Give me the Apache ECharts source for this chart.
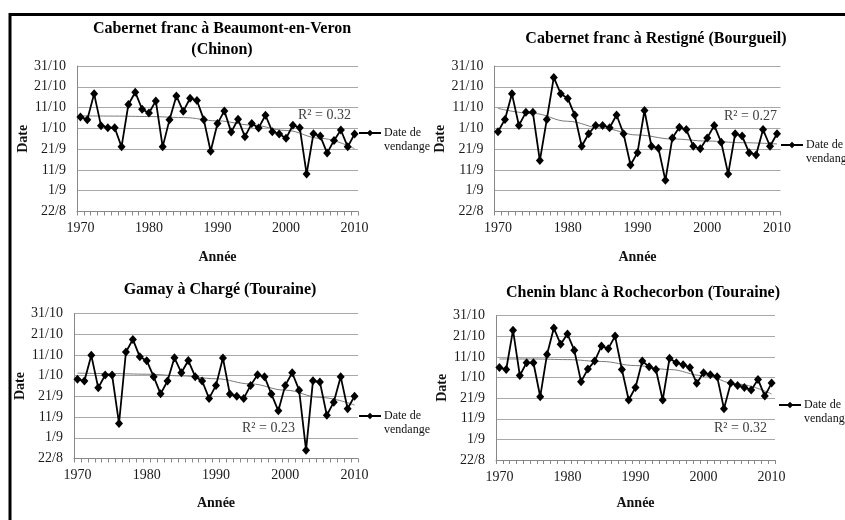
<!DOCTYPE html>
<html><head><meta charset="utf-8">
<script src="https://cdn.jsdelivr.net/npm/echarts@6/dist/echarts.min.js"></script>
<style>html,body{margin:0;padding:0;background:#fff}#c{width:845px;height:520px}</style>
</head><body><div id="c"></div>
<script>
// ---- data (days counted from 22/8) ----
const years = ['1970','1971','1972','1973','1974','1975','1976','1977','1978','1979',
  '1980','1981','1982','1983','1984','1985','1986','1987','1988','1989',
  '1990','1991','1992','1993','1994','1995','1996','1997','1998','1999',
  '2000','2001','2002','2003','2004','2005','2006','2007','2008','2009','2010'];
const dateTicks = ['22/8','1/9','11/9','21/9','1/10','11/10','21/10','31/10'];

const chinon = [45.5,44.2,56.6,41.3,40.3,40.3,31.1,51.5,57.4,49.2,
  47.4,53.2,31.1,44.2,55.6,48.2,54.5,53.4,44.2,29.0,
  42.3,48.4,38.2,44.4,36.0,42.3,40.2,46.3,38.4,37.3,
  35.2,41.5,40.3,18.1,37.4,36.3,28.1,34.2,39.2,31.1,37.3];
const bourgueil = [38.4,44.3,56.6,41.4,47.7,47.7,24.5,44.3,64.5,56.6,
  54.4,46.4,31.4,37.4,41.4,41.4,40.3,46.4,37.4,22.4,
  28.3,48.6,31.4,30.4,15.0,35.4,40.5,39.4,31.4,30.2,
  35.4,41.4,33.3,18.1,37.4,36.3,28.3,27.2,39.4,31.4,37.4];
const charge = [38.3,37.4,49.8,34.1,40.3,40.3,16.9,51.4,57.5,49.1,
  47.2,39.5,31.2,37.4,48.6,41.4,47.3,39.5,37.4,29.0,
  35.3,48.5,31.1,30.1,29.0,35.3,40.4,39.5,31.1,23.0,
  35.3,41.4,33.0,4.0,37.5,36.9,20.9,27.2,39.5,24.0,30.1];
const rochecorbon = [44.9,43.9,63.0,41.0,47.2,47.2,30.7,51.2,64.0,56.1,
  61.1,53.3,38.0,44.1,48.0,55.3,54.0,60.1,43.9,29.1,
  35.2,48.0,45.2,43.9,29.1,49.3,47.2,46.2,44.9,37.2,
  42.3,41.4,40.4,24.9,37.3,36.2,35.2,33.9,39.1,31.0,37.3];

// trend curves
const trendYears = ['1970','1975','1980','1985','1990','1995','2000','2005','2010'];
const chinonTrend = [46.0,45.9,45.7,45.2,43.6,41.6,39.0,35.2,30.2];
const bourgueilTrend = [49.6,47.2,43.4,40.0,36.8,34.9,33.9,33.1,32.5];
const chargeTrend = [41.2,41.0,40.7,39.9,38.5,36.0,33.0,29.5,25.8];
const rocheTrend = [49.0,49.0,48.7,47.8,45.8,43.9,40.9,36.8,32.0];

const titles = ['Cabernet franc à Beaumont-en-Veron\n(Chinon)',
  'Cabernet franc à Restigné (Bourgueil)',
  'Gamay à Chargé (Touraine)',
  'Chenin blanc à Rochecorbon (Touraine)'];
const r2Labels = ['R² = 0.32','R² = 0.27','R² = 0.23','R² = 0.32'];
const seriesName = 'Date de vendange';
const yName = 'Date';
const xName = 'Année';

// ---- layout ----
const FONT = "'Liberation Serif','Times New Roman',serif";
const panels = [
  {vals: chinon, trend: chinonTrend, grid:{left:77,top:66,width:281,height:145.5},
   title:{x:222,y:18.5}, r2:{x:326,y:116}, legend:{x:358,y:112}, yGap:47, xGap:38.5},
  {vals: bourgueil, trend: bourgueilTrend, grid:{left:494.5,top:66,width:286,height:145.5},
   title:{x:656,y:28.5}, r2:{x:752,y:117}, legend:{x:780,y:124}, yGap:43, xGap:38.5},
  {vals: charge, trend: chargeTrend, grid:{left:74,top:313.5,width:284,height:145},
   title:{x:220,y:279.5}, r2:{x:270,y:429}, legend:{x:358,y:395}, yGap:44, xGap:37.5},
  {vals: rochecorbon, trend: rocheTrend, grid:{left:496,top:315.7,width:279,height:144.3},
   title:{x:643,y:282.5}, r2:{x:742,y:429}, legend:{x:778,y:384}, yGap:44, xGap:36}
];

const option = {animation:false, backgroundColor:'#fff',
  grid:[], xAxis:[], yAxis:[], series:[], title:[], legend:[], graphic:[]};

panels.forEach((p,i)=>{
  option.grid.push(Object.assign({containLabel:false}, p.grid));
  option.xAxis.push({type:'category', gridIndex:i, data:years, boundaryGap:true,
    name:xName, nameLocation:'middle', nameGap:p.xGap,
    nameTextStyle:{fontFamily:FONT,fontSize:14,fontWeight:'bold',color:'#111'},
    axisLine:{lineStyle:{color:'#888',width:1}},
    axisTick:{show:true,interval:0,length:4,lineStyle:{color:'#888'}},
    axisLabel:{interval:9,margin:10,fontFamily:FONT,fontSize:14,color:'#1a1a1a'},
    splitLine:{show:false}});
  option.yAxis.push({type:'value', gridIndex:i, min:0, max:70, interval:10,
    name:yName, nameLocation:'middle', nameGap:p.yGap, nameRotate:90,
    nameTextStyle:{fontFamily:FONT,fontSize:14,fontWeight:'bold',color:'#111'},
    axisLine:{show:true,lineStyle:{color:'#888',width:1}},
    axisTick:{show:false},
    axisLabel:{margin:11,fontFamily:FONT,fontSize:14,color:'#1a1a1a',
      formatter:v=>dateTicks[Math.round(v/10)]},
    splitLine:{lineStyle:{color:'#a8a8a8',width:1}}});
  option.series.push({type:'line', name:seriesName, xAxisIndex:i, yAxisIndex:i,
    data:p.vals, symbol:'diamond', symbolSize:[8,9], showAllSymbol:true, z:3,
    lineStyle:{color:'#000',width:1.8}, itemStyle:{color:'#000'}});
  option.series.push({type:'line', name:'trend'+i, xAxisIndex:i, yAxisIndex:i,
    data:trendYears.map((y,k)=>[y,p.trend[k]]), symbol:'none', smooth:0.4,
    smoothMonotone:'x', lineStyle:{color:'#7a7a7a',width:1}, z:2, silent:true});
  option.title.push({text:titles[i], left:p.title.x, top:p.title.y, textAlign:'center',
    padding:0, textStyle:{fontFamily:FONT,fontSize:16,fontWeight:'bold',color:'#000',lineHeight:21}});
  option.legend.push({data:[seriesName], left:p.legend.x, top:p.legend.y, orient:'vertical',
    padding:0, itemWidth:22, itemHeight:8, itemGap:0,
    formatter:()=>' \nDate de\nvendange',
    textStyle:{fontFamily:FONT,fontSize:12,color:'#111',lineHeight:14,padding:[0,0,0,-2]}});
  option.graphic.push({type:'text', left:p.r2.x-28, top:p.r2.y-8,
    style:{text:r2Labels[i], font:'14px '+FONT, fill:'#404040'}});
});
// outer frame (left and top)
option.graphic.push({type:'polyline', shape:{points:[[10,520],[10,14.5],[845,14.5]]},
  style:{stroke:'#000',lineWidth:3,fill:null}, z:10});

const chart = echarts.init(document.getElementById('c'), null, {renderer:'canvas'});
chart.setOption(option);
</script></body></html>
